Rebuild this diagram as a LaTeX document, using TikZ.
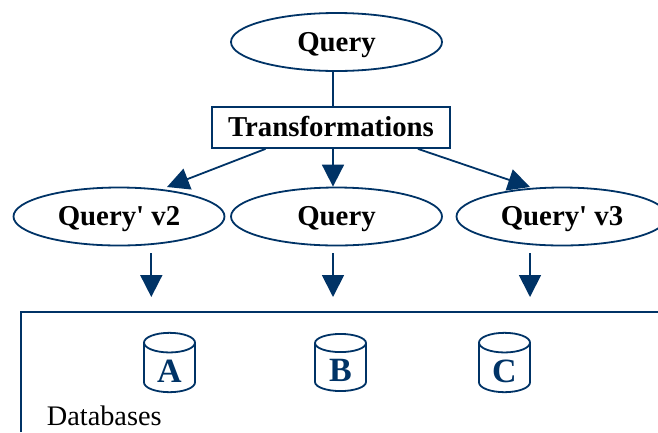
\documentclass[tikz,border=0pt]{standalone}
\usepackage{fontspec}
\setmainfont{Liberation Serif}
\usetikzlibrary{shapes.geometric,arrows.meta}
\definecolor{navy}{HTML}{003366}
\tikzset{
  oval/.style={ellipse,draw=navy,line width=1.8pt,minimum width=211pt,minimum height=58pt,inner sep=0pt,text height=22pt,text depth=4pt,font=\fontsize{28.8}{30}\selectfont\bfseries,text=black},
  trbox/.style={rectangle,draw=navy,line width=1.8pt,minimum width=238pt,minimum height=41pt,inner sep=0pt,text height=22pt,text depth=4pt,font=\fontsize{28.8}{30}\selectfont\bfseries,text=black},
  link/.style={draw=navy,line width=1.8pt},
  headarrow/.style={link,-{Triangle[length=22pt,width=22pt]}},
  dbcyl/.style={cylinder,anchor=shape center,shape border rotate=90,aspect=0.8,draw=navy,line width=1.8pt,minimum width=51pt,minimum height=57pt,inner sep=0pt,text height=29pt,text depth=0pt,font=\fontsize{34}{36}\selectfont\bfseries,text=navy},
  dbtext/.style={font=\fontsize{28.3}{30}\selectfont,text=black,inner sep=0pt,anchor=base west}
}
\begin{document}
\begin{tikzpicture}[x=1pt,y=-1pt]
\useasboundingbox (0,0) rectangle (658,432);
\node[oval] (q) at (336.5,42) {Query};
\node[trbox] (tr) at (331,127.5) {Transformations};
\node[oval] (v2) at (119,216.5) {Query\textquotesingle{} v2};
\node[oval] (qm) at (336.5,216.5) {Query};
\node[oval] (v3) at (562,216.5) {Query\textquotesingle{} v3};
\draw[link] ([xshift=-3.5pt]q.south) -- ([xshift=2pt]tr.north);
\draw[headarrow] ([xshift=-65.5pt]tr.south) -- ([xshift=48pt,yshift=29.5pt]v2.center);
\draw[headarrow] ([xshift=2pt]tr.south) -- ([xshift=-3.5pt]qm.north);
\draw[headarrow] ([xshift=87pt]tr.south) -- ([xshift=-32pt,yshift=29.5pt]v3.center);
\coordinate (boxbl) at (21,432);
\coordinate (boxtl) at (21,312);
\coordinate (boxtr) at (658,312);
\draw[link] (boxbl) -- (boxtl) -- (boxtr);
\node[dbcyl] (a) at (169.5,362.5) {A};
\node[dbcyl] (b) at (340.5,362.5) {B};
\node[dbcyl] (c) at (504.5,362.5) {C};
\coordinate (a1) at (151.3,253); \coordinate (a2) at (151.3,297);
\coordinate (b1) at (333,253); \coordinate (b2) at (333,297);
\coordinate (c1) at (530,253); \coordinate (c2) at (530,297);
\draw[headarrow] (a1) -- (a2);
\draw[headarrow] (b1) -- (b2);
\draw[headarrow] (c1) -- (c2);
\node[dbtext] (dbl) at (46.7,425.5) {Databases};
\end{tikzpicture}
\end{document}
